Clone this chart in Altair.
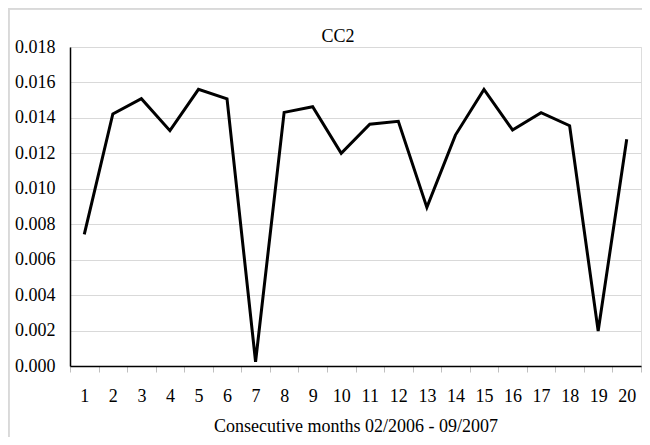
import altair as alt
import pandas as pd

months = list(range(1, 21))
values = [0.00743, 0.01422, 0.01508, 0.01328, 0.01561, 0.01508, 0.00024,
          0.01431, 0.01463, 0.01200, 0.01364, 0.01381, 0.00895, 0.01303,
          0.01561, 0.01332, 0.01429, 0.01356, 0.00197, 0.01279]
y_ticks = [0.0, 0.002, 0.004, 0.006, 0.008, 0.010, 0.012, 0.014, 0.016, 0.018]
title_text = "CC2"
x_title = "Consecutive months 02/2006 - 09/2007"

df = pd.DataFrame({"month": months, "value": values})

FONT = "'Liberation Serif', 'Times New Roman', Times, serif"
W, H = 571, 319
PL, PT, PR, PB = 62, 39, 1, 71

border = alt.Chart(df).mark_rect(fill=None, stroke="#d9d9d9", strokeWidth=1.5).encode(
    x=alt.value(-PL + 0.5), y=alt.value(-PT + 0.5),
    x2=alt.value(W + PR + 20), y2=alt.value(H + PB + 20)
)

title = alt.Chart(pd.DataFrame({"t": [title_text]})).mark_text(
    font=FONT, fontSize=18, color="black", align="center", baseline="alphabetic"
).encode(text="t:N", x=alt.value(268), y=alt.value(-5))

line = alt.Chart(df).mark_line(color="black", strokeWidth=3).encode(
    x=alt.X("month:O", bandPosition=0.5,
            scale=alt.Scale(type="band", paddingInner=0, paddingOuter=0),
            axis=alt.Axis(title=x_title, labelAngle=0, tickBand="extent",
                          tickSize=6, tickColor="#bfbfbf", tickWidth=1,
                          domainColor="black", domainWidth=1.5,
                          labelFont=FONT, labelFontSize=18, labelColor="black",
                          labelPadding=15, titleFont=FONT, titleFontSize=18,
                          titleFontWeight="normal", titleColor="black",
                          titlePadding=12, grid=False)),
    y=alt.Y("value:Q", scale=alt.Scale(domain=[0, 0.018], nice=False, zero=True),
            axis=alt.Axis(title=None, values=y_ticks, format=".3f", ticks=False,
                          labelFont=FONT, labelFontSize=18, labelColor="black",
                          labelPadding=15, domainColor="black", domainWidth=1.5,
                          gridColor="#d9d9d9", gridWidth=1.2))
)

chart = alt.layer(border, line, title).properties(
    width=W, height=H,
    autosize=alt.AutoSizeParams(type="none"),
    padding={"left": PL, "top": PT, "right": PR, "bottom": PB},
).configure_view(stroke="#404040", strokeWidth=1.5).configure(background="white")

chart.save("out.html", embed_options={"renderer": "svg", "actions": False})
